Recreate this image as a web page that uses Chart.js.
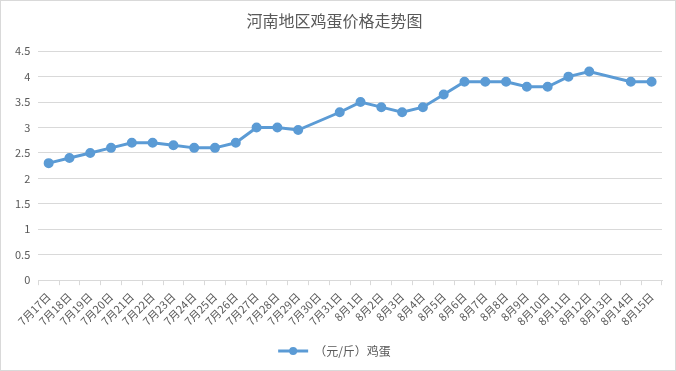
<!DOCTYPE html>
<html>
<head>
<meta charset="utf-8">
<script src="https://cdn.jsdelivr.net/npm/chart.js@4"></script>
<style>
    html, body { margin: 0; padding: 0; background: #fff; }
    #wrap { width: 676px; height: 371px; box-sizing: border-box; border: 1px solid #d9d9d9; }
    canvas { display: block; }
</style>
</head>
<body>
<div id="wrap"><canvas id="eggChart" width="674" height="369"></canvas></div>
<script>
// 日期
const dates = [
    '7月17日', '7月18日', '7月19日', '7月20日', '7月21日', '7月22日', '7月23日', '7月24日',
    '7月25日', '7月26日', '7月27日', '7月28日', '7月29日', '7月30日', '7月31日',
    '8月1日', '8月2日', '8月3日', '8月4日', '8月5日', '8月6日', '8月7日', '8月8日',
    '8月9日', '8月10日', '8月11日', '8月12日', '8月13日', '8月14日', '8月15日'
];
// 鸡蛋价格（元/斤），null 为缺数据
const eggPrices = [
    2.3, 2.4, 2.5, 2.6, 2.7, 2.7, 2.65, 2.6,
    2.6, 2.7, 3.0, 3.0, 2.95, null, 3.3,
    3.5, 3.4, 3.3, 3.4, 3.65, 3.9, 3.9, 3.9,
    3.8, 3.8, 4.0, 4.1, null, 3.9, 3.9
];
const seriesName = '（元/斤）鸡蛋';
const titleText = '河南地区鸡蛋价格走势图';

const lineColor = '#5b9bd5';
const textColor = '#595959';
const gridColor = '#d9d9d9';
const fontFamily = "'Noto Sans CJK SC', 'Noto Sans', sans-serif";

// 图例里画上圆点（线 + 点）
const legendDot = {
    id: 'legendDot',
    afterDraw(chart) {
        const legend = chart.legend;
        if (!legend || !legend.legendHitBoxes || !legend.legendHitBoxes.length) return;
        const box = legend.legendHitBoxes[0];
        const ctx = chart.ctx;
        ctx.save();
        ctx.fillStyle = lineColor;
        ctx.beginPath();
        ctx.arc(box.left + 15, box.top + box.height / 2, 4, 0, Math.PI * 2);
        ctx.fill();
        ctx.restore();
    }
};

new Chart(document.getElementById('eggChart'), {
    type: 'line',
    data: {
        labels: dates,
        datasets: [{
            label: seriesName,
            data: eggPrices,
            borderColor: lineColor,
            backgroundColor: lineColor,
            borderWidth: 3,
            pointRadius: 3.5,
            pointBackgroundColor: lineColor,
            pointBorderColor: lineColor,
            tension: 0,
            spanGaps: true
        }]
    },
    options: {
        responsive: false,
        animation: false,
        layout: { padding: { left: 6, right: 13, top: 4, bottom: 3 } },
        plugins: {
            title: {
                display: true,
                text: titleText,
                color: textColor,
                font: { family: fontFamily, size: 16, weight: 'normal' },
                padding: { top: 6, bottom: 21 }
            },
            legend: {
                position: 'bottom',
                labels: {
                    color: textColor,
                    font: { family: fontFamily, size: 12 },
                    usePointStyle: true,
                    pointStyle: 'line',
                    pointStyleWidth: 30,
                    padding: 12
                }
            },
            tooltip: { enabled: false }
        },
        scales: {
            x: {
                offset: true,
                grid: {
                    offset: true,
                    drawOnChartArea: false,
                    drawTicks: true,
                    tickLength: 5,
                    color: gridColor
                },
                border: { color: gridColor },
                ticks: {
                    color: textColor,
                    font: { family: fontFamily, size: 11 },
                    minRotation: 45,
                    maxRotation: 45,
                    autoSkip: false,
                    padding: 5
                }
            },
            y: {
                min: 0,
                max: 4.5,
                grid: { color: gridColor, drawTicks: false },
                border: { display: false },
                ticks: {
                    stepSize: 0.5,
                    color: textColor,
                    font: { family: fontFamily, size: 11 },
                    padding: 8,
                    callback: v => String(v)
                }
            }
        }
    },
    plugins: [legendDot]
});
</script>
</body>
</html>
